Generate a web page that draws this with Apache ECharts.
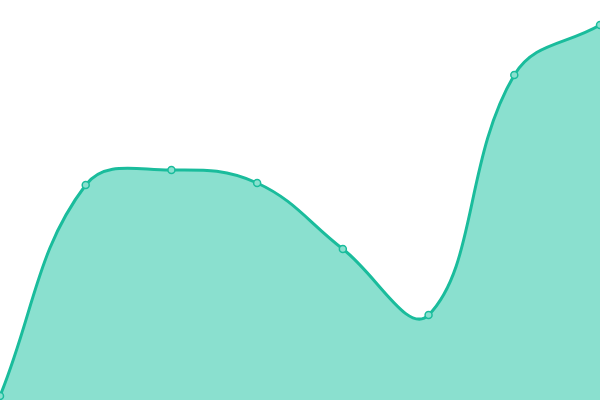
<!DOCTYPE html>
<html>
<head>
<meta charset="utf-8">
<script src="https://cdn.jsdelivr.net/npm/echarts@6/dist/echarts.min.js"></script>
<style>
    html, body { margin: 0; padding: 0; background: #fff; }
    #chart { width: 600px; height: 400px; }
</style>
</head>
<body>
<div id="chart"></div>
<script>
    var categories = ['1', '2', '3', '4', '5', '6', '7', '8'];
    var values = [4, 215, 230, 217, 151, 85, 325, 375];

    var tension = 0.4;

    // spline through the points, control points like a cardinal curve
    function splinePath(pts) {
        var cps = pts.map(function (p, i) {
            var prev = pts[i - 1] || p, next = pts[i + 1] || p;
            var d01 = Math.hypot(p[0] - prev[0], p[1] - prev[1]);
            var d12 = Math.hypot(next[0] - p[0], next[1] - p[1]);
            var s01 = d01 / (d01 + d12 || 1), s12 = d12 / (d01 + d12 || 1);
            var fa = tension * s01, fb = tension * s12;
            return {
                prev: [p[0] - fa * (next[0] - prev[0]), p[1] - fa * (next[1] - prev[1])],
                next: [p[0] + fb * (next[0] - prev[0]), p[1] + fb * (next[1] - prev[1])]
            };
        });
        var d = 'M' + pts[0][0] + ' ' + pts[0][1];
        for (var i = 1; i < pts.length; i++) {
            d += ' C' + cps[i - 1].next[0] + ' ' + cps[i - 1].next[1] + ' ' +
                cps[i].prev[0] + ' ' + cps[i].prev[1] + ' ' + pts[i][0] + ' ' + pts[i][1];
        }
        return d;
    }

    var chart = echarts.init(document.getElementById('chart'));
    chart.setOption({
        animation: false,
        grid: {left: 0, right: 0, top: 0, bottom: 0},
        xAxis: {
            type: 'category',
            data: categories,
            boundaryGap: false,
            show: false
        },
        yAxis: {
            type: 'value',
            min: 0,
            max: 400,
            show: false
        },
        series: [
            {
                type: 'custom',
                z: 1,
                data: values.map(function (v, i) { return [i, v]; }),
                encode: {x: 0, y: 1},
                renderItem: function (params, api) {
                    if (params.dataIndex !== 0) return;
                    var pts = values.map(function (v, i) { return api.coord([i, v]); });
                    var base = api.coord([0, 0])[1];
                    var line = splinePath(pts);
                    var area = line + ' L' + pts[pts.length - 1][0] + ' ' + base +
                        ' L' + pts[0][0] + ' ' + base + ' Z';
                    return {
                        type: 'group',
                        children: [
                            {type: 'path', shape: {pathData: area}, style: {fill: '#8ae0cf'}},
                            {type: 'path', shape: {pathData: line}, style: {fill: 'none', stroke: '#1abc9c', lineWidth: 3}}
                        ]
                    };
                }
            },
            {
                type: 'line',
                z: 2,
                data: values,
                symbol: 'circle',
                symbolSize: 7,
                lineStyle: {width: 0},
                itemStyle: {color: '#8ae0cf', borderColor: '#1abc9c', borderWidth: 1.5}
            }
        ]
    });
</script>
</body>
</html>
